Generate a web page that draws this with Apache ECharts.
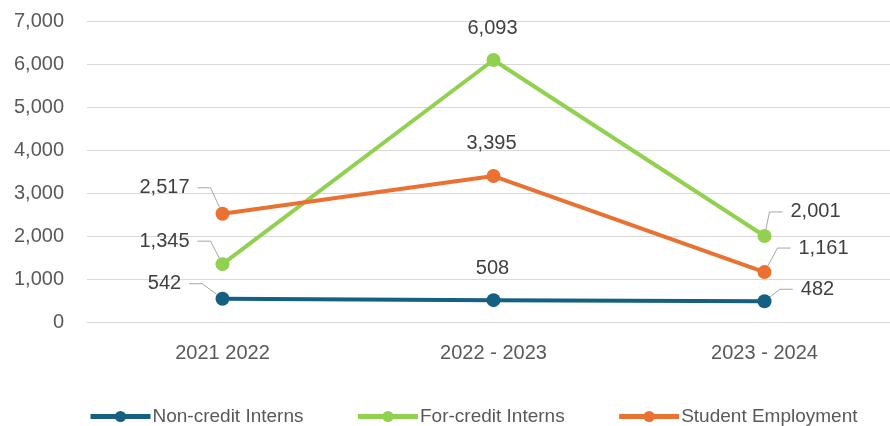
<!DOCTYPE html>
<html>
<head>
<meta charset="utf-8">
<script src="https://cdn.jsdelivr.net/npm/echarts@6/dist/echarts.min.js"></script>
<style>
  html, body { margin: 0; padding: 0; background: #fff; }
  #chart { width: 890px; height: 426px; }
</style>
</head>
<body>
<div id="chart"></div>
<script>
// categories (x axis)
var years = ['2021 2022', '2022 - 2023', '2023 - 2024'];

// series values
var nonCredit = [542, 508, 482];
var forCredit = [1345, 6093, 2001];
var studentEmp = [2517, 3395, 1161];

// y axis ticks
var yTicks = [0, 1000, 2000, 3000, 4000, 5000, 6000, 7000];

// label placement relative to the point (px), per series / per point
var labelOffsets = [
  [[-58, -15], [-1, -32], [53, -12]],
  [[-58, -23], [-1, -32], [51, -24]],
  [[-58, -26], [-2, -33], [59, -24]]
];

var chart = echarts.init(document.getElementById('chart'), null, { renderer: 'canvas' });

function fmt(v) {
  return echarts.format.addCommas(v);
}

function makeData(arr) {
  return arr.map(function (v, i) {
    return { value: v, labelLine: { show: i !== 1 } };
  });
}

// move label away from the point, the leader line is drawn by echarts
function layoutLabel(params) {
  var r = params.rect;
  var cx = r.x + r.width / 2;
  var cy = r.y + r.height / 2;
  var off = labelOffsets[params.seriesIndex][params.dataIndex];
  return { x: cx + off[0], y: cy + off[1], align: 'center', verticalAlign: 'middle' };
}

function lineSeries(name, data, color) {
  return {
    name: name,
    type: 'line',
    data: makeData(data),
    symbol: 'circle',
    symbolSize: 14,
    lineStyle: { color: color, width: 4 },
    itemStyle: { color: color },
    label: {
      show: true,
      position: 'top',
      formatter: function (p) { return fmt(p.value); },
      color: '#404040',
      fontSize: 20,
      padding: [0, 8],
      backgroundColor: 'rgba(0,0,0,0)',
      fontFamily: 'Liberation Sans, Arial, sans-serif'
    },
    labelLine: {
      show: true,
      length2: 13,
      lineStyle: { color: '#A6A6A6', width: 1 }
    },
    labelLayout: layoutLabel,
    emphasis: { disabled: true }
  };
}

var option = {
  animation: false,
  color: ['#156082', '#92D050', '#E97132'],
  textStyle: { fontFamily: 'Liberation Sans, Arial, sans-serif' },
  grid: {
    left: 87,
    right: -10,
    top: 21,
    bottom: 104,
    containLabel: false,
    outerBoundsMode: 'none'
  },
  legend: {
    left: 88,
    top: 407,
    padding: 0,
    itemWidth: 60,
    itemHeight: 14,
    itemGap: 52,
    lineStyle: { width: 5 },
    textStyle: { color: '#595959', fontSize: 19, padding: [0, 0, 0, -3] },
    data: ['Non-credit Interns', 'For-credit Interns', 'Student Employment']
  },
  xAxis: {
    type: 'category',
    data: years,
    axisTick: { show: false },
    axisLine: { show: true, lineStyle: { color: '#D9D9D9', width: 1 } },
    axisLabel: { color: '#595959', fontSize: 20, margin: 21 }
  },
  yAxis: {
    type: 'value',
    min: yTicks[0],
    max: yTicks[yTicks.length - 1],
    interval: yTicks[1] - yTicks[0],
    axisLine: { show: false },
    axisTick: { show: false },
    splitLine: { lineStyle: { color: '#D9D9D9', width: 1 } },
    axisLabel: {
      color: '#595959',
      fontSize: 20,
      margin: 23,
      formatter: function (v) { return fmt(v); }
    }
  },
  series: [
    lineSeries('Non-credit Interns', nonCredit, '#156082'),
    lineSeries('For-credit Interns', forCredit, '#92D050'),
    lineSeries('Student Employment', studentEmp, '#E97132')
  ]
};

chart.setOption(option);
</script>
</body>
</html>
